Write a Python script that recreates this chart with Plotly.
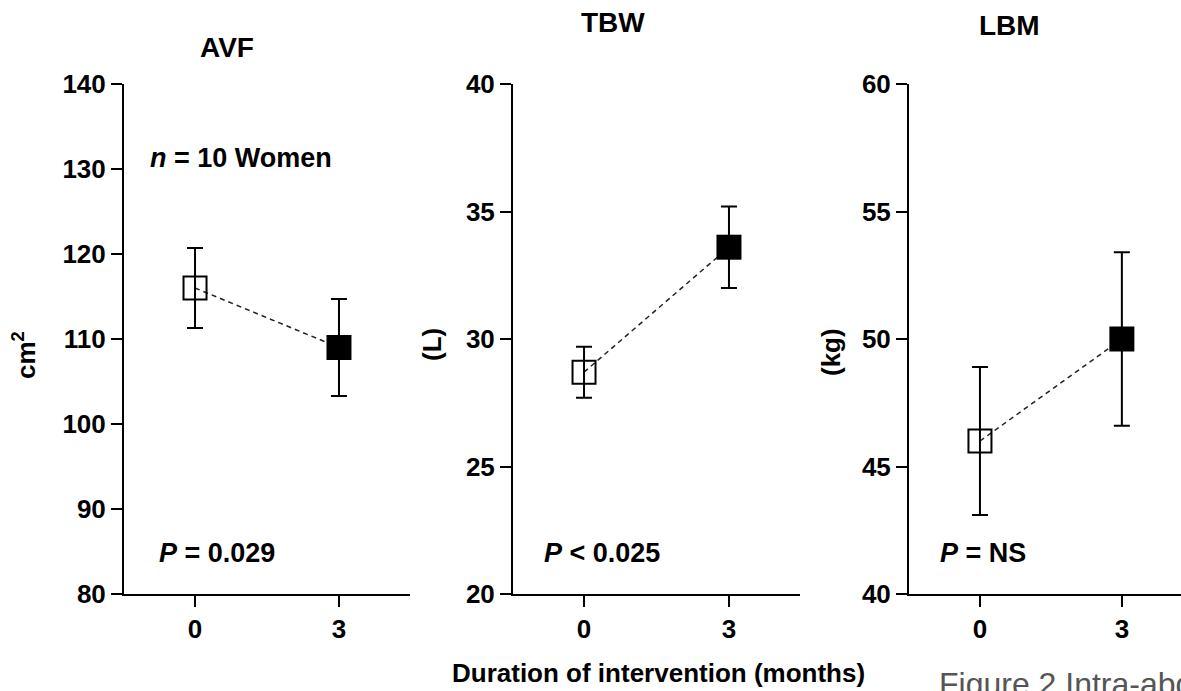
import plotly.graph_objects as go

W, H = 1181, 691
T, B = 84, 97  # plot area top / bottom margins

# ---- data ----
months = [0, 3]
panel_titles = ["AVF", "TBW", "LBM"]
y_titles = ["cm<sup>2</sup>", "(L)", "(kg)"]
avf_mean = [116.0, 109.0]
avf_err = [4.7, 5.7]
tbw_mean = [28.7, 33.6]
tbw_err = [1.0, 1.6]
lbm_mean = [46.0, 50.0]
lbm_err = [2.9, 3.4]
p_texts = ["<i>P</i> = 0.029", "<i>P</i> &lt; 0.025", "<i>P</i> = NS"]
y_ranges = [[80, 140], [20, 40], [40, 60]]
y_ticks = [[80, 90, 100, 110, 120, 130, 140], [20, 25, 30, 35, 40], [40, 45, 50, 55, 60]]
x_ranges = [[-1.48, 4.48], [-1.47, 4.47], [-1.5, 4.25]]
x_domains_px = [(124, 410), (513, 800), (909, 1181)]

FONT = "Liberation Sans, Arial, sans-serif"

means = [avf_mean, tbw_mean, lbm_mean]
errs = [avf_err, tbw_err, lbm_err]

fig = go.Figure()

def px2x(px):
    return px / W

def py2y(py):
    return (H - B - py) / (H - T - B)

for i in range(3):
    xa = "x" if i == 0 else f"x{i+1}"
    ya = "y" if i == 0 else f"y{i+1}"
    m = means[i]
    e = errs[i]
    # dashed connecting line
    fig.add_trace(go.Scatter(x=months, y=m, mode="lines", xaxis=xa, yaxis=ya,
                             line=dict(color="#222", width=1.5, dash="5px,4px"),
                             showlegend=False, hoverinfo="skip"))
    # baseline (open square)
    fig.add_trace(go.Scatter(x=[months[0]], y=[m[0]], mode="markers", xaxis=xa, yaxis=ya,
                             marker=dict(symbol="square-open", size=23, color="black",
                                         line=dict(width=2, color="black")),
                             error_y=dict(type="data", array=[e[0]], color="black",
                                          thickness=2, width=8),
                             showlegend=False))
    # 3 months (filled square)
    fig.add_trace(go.Scatter(x=[months[1]], y=[m[1]], mode="markers", xaxis=xa, yaxis=ya,
                             marker=dict(symbol="square", size=25, color="black",
                                         line=dict(width=0)),
                             error_y=dict(type="data", array=[e[1]], color="black",
                                          thickness=2, width=8),
                             showlegend=False))

axis_common = dict(showline=True, linecolor="black", linewidth=2, ticks="outside",
                   ticklen=11, tickwidth=2, tickcolor="black", showgrid=False,
                   zeroline=False,
                   tickfont=dict(family=FONT, size=26, color="black", weight="bold"))

layout = dict(width=W, height=H, plot_bgcolor="white", paper_bgcolor="white",
              margin=dict(l=0, r=0, t=T, b=B), showlegend=False)

for i in range(3):
    sx = "" if i == 0 else str(i + 1)
    d0, d1 = x_domains_px[i]
    layout[f"xaxis{sx}"] = dict(axis_common, domain=[px2x(d0), px2x(d1)], range=x_ranges[i],
                                tickvals=months, ticktext=[str(v) for v in months],
                                anchor=f"y{sx}")
    layout[f"yaxis{sx}"] = dict(axis_common, range=y_ranges[i], tickvals=y_ticks[i],
                                anchor=f"x{sx}")

fig.update_layout(**layout)

ann = []
def add_text(text, px, py, size=27, bold=True, angle=0, xanchor="center", yanchor="middle",
             color="black"):
    ann.append(dict(text=text, x=px2x(px), y=py2y(py), xref="paper", yref="paper",
                    showarrow=False, textangle=angle, xanchor=xanchor, yanchor=yanchor,
                    font=dict(family=FONT, size=size, color=color,
                              weight="bold" if bold else "normal")))

# panel titles
title_pos = [(227, 47), (613, 23), (1009, 26)]
for t, (x, y) in zip(panel_titles, title_pos):
    add_text(t, x, y, size=28)

# y-axis titles
ytitle_pos = [(24, 355), (432, 345), (831, 352)]
for t, (x, y) in zip(y_titles, ytitle_pos):
    add_text(t, x, y, size=26, angle=-90)

# in-panel notes
add_text("<i>n</i> = 10 Women", 148, 158, size=27, xanchor="left")
p_pos = [(157, 553), (542, 553), (938, 553)]
for t, (x, y) in zip(p_texts, p_pos):
    add_text(t, x, y, size=27, xanchor="left")

# x-axis title
add_text("Duration of intervention (months)", 658, 673, size=26)

# caption, cut off by the picture edge as in the reference
add_text("Figure 2 Intra-abd", 937, 664, size=32, bold=False,
         xanchor="left", yanchor="top", color="#555")

fig.update_layout(annotations=ann)
fig.write_html("out.html")
